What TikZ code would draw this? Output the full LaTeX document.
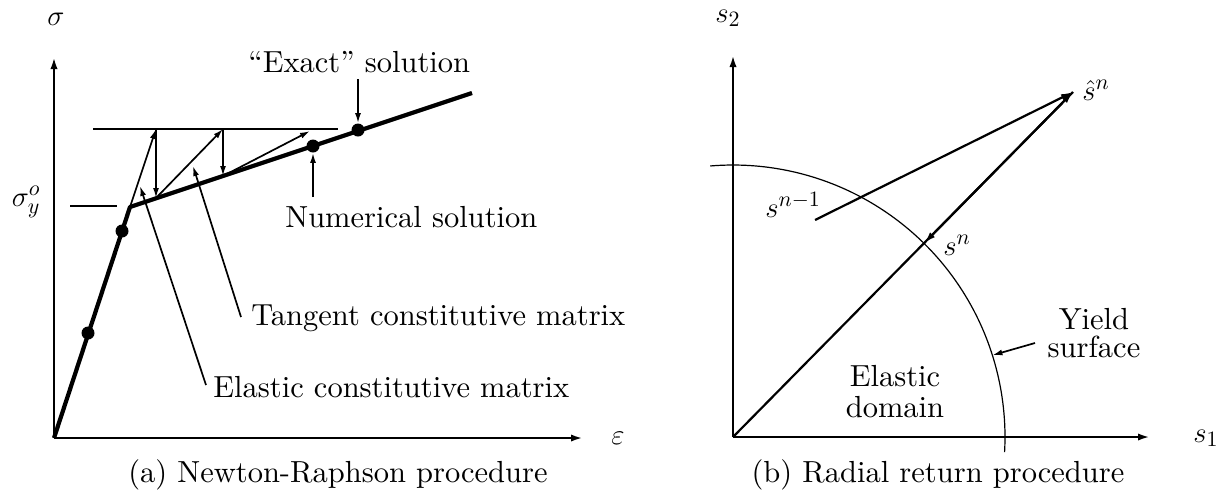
\documentclass[tikz,border=0pt]{standalone}
\usepackage{fontspec}
\setmainfont{lmroman10-regular.otf}
\usetikzlibrary{arrows.meta}
\begin{document}
\begin{tikzpicture}[x=0.5pt,y=-0.5pt,
  font=\fontsize{15.25}{15.5}\selectfont,
  axisline/.style={line width=1.2pt,-{Latex[length=6pt,width=3.6pt]}},
  thickline/.style={line width=2.1pt,line join=round},
  iterarrow/.style={line width=0.85pt,-{Latex[length=5pt,width=3pt]}},
  radarrow/.style={line width=1.1pt,-{Latex[length=6pt,width=3.4pt]}},
  thinline/.style={line width=0.85pt},
  dot/.style={circle,fill,inner sep=0pt,minimum size=6.5pt},
  lbl/.style={inner sep=0pt}]
\useasboundingbox (0,0) rectangle (1230,495);

% ---------- (a) Newton-Raphson ----------
\coordinate (O) at (54,438);
\coordinate (ytip) at (54,57);
\coordinate (xtip) at (583,438);
\draw[axisline] (O) -- (ytip);
\draw[axisline] (O) -- (xtip);
\node[lbl] (sig) at (56,19) {$\sigma$};
\node[lbl] (eps) at (618,438) {$\varepsilon$};

\coordinate (K) at (130,207);
\coordinate (E) at (472,93);
\draw[thickline] (O) -- (K) -- (E);
\node[dot] (d1) at (88,333) {};
\node[dot] (d2) at (122,231) {};

\coordinate (h1) at (93,129);
\coordinate (h2) at (338,129);
\draw[thinline] (h1) -- (h2);

\coordinate (a1) at (156,129);
\coordinate (b1) at (156,198);
\coordinate (a2) at (223,129);
\coordinate (b2) at (223,176);
\coordinate (a3) at (310,131);
\draw[iterarrow] (K) -- (a1);
\draw[iterarrow] (a1) -- (b1);
\draw[iterarrow] (b1) -- (a2);
\draw[iterarrow] (a2) -- (b2);
\draw[iterarrow] (b2) -- (a3);

\node[dot] (num) at (313,146) {};
\node[dot] (exact) at (358,130) {};

\node[lbl,anchor=base west] (exlbl) at (248,72) {``Exact'' solution};
\coordinate (exTop) at (358,79);
\draw[iterarrow] (exTop) -- (exact);

\node[lbl,anchor=base west] (numlbl) at (285,227) {Numerical solution};
\coordinate (numBot) at (313,197);
\draw[iterarrow] (numBot) -- (num);

\node[lbl,anchor=base west] (tanlbl) at (251,325) {Tangent constitutive matrix};
\coordinate (tanFoot) at (241,317);
\coordinate (tanTip) at (193,166);
\draw[iterarrow] (tanFoot) -- (tanTip);

\node[lbl,anchor=base west] (elalbl) at (213,397) {Elastic constitutive matrix};
\coordinate (elFoot) at (206,385);
\coordinate (elTip) at (140,186);
\draw[iterarrow] (elFoot) -- (elTip);

\node[lbl,anchor=east] (sy) at (41,202) {$\sigma_y^o$};
\coordinate (t1) at (70,206);
\coordinate (t2) at (117,206);
\draw[thinline] (t1) -- (t2);

\node[lbl,anchor=base] (capa) at (338,482) {(a) Newton-Raphson procedure};

% ---------- (b) Radial return ----------
\coordinate (O2) at (733,437);
\coordinate (y2tip) at (733,55);
\coordinate (x2tip) at (1150,437);
\draw[axisline] (O2) -- (y2tip);
\draw[axisline] (O2) -- (x2tip);
\node[lbl] (s2) at (728,18) {$s_2$};
\node[lbl] (s1) at (1206,438) {$s_1$};

\begin{scope}[shift={(O2)},x=0.5pt,y=0.5pt]
  \draw[line width=0.6pt] (94.8:272) arc[start angle=94.8,end angle=-3.2,radius=272];
  \coordinate (sn) at (45.4:272);
  \coordinate (ys) at (17.5:272);
\end{scope}

\coordinate (shat) at (1073,92);
\coordinate (snm1) at (815,220);
\draw[radarrow] (O2) -- (shat);
\draw[radarrow] (snm1) -- (shat);
\draw[radarrow] (shat) -- (sn);

\node[lbl,anchor=base west] (shatl) at (1082,100) {$\hat{s}^n$};
\node[lbl,anchor=base west] (snm1l) at (765,217) {$s^{n-1}$};
\node[lbl,anchor=base west] (snl) at (943,255) {$s^n$};

\node[lbl,align=center,font=\fontsize{15.25}{14}\selectfont] (yield) at (1094,333) {Yield\\surface};
\coordinate (yFoot) at (1035,343);
\draw[iterarrow] (yFoot) -- (ys);

\node[lbl,align=center] (eldom) at (895,392) {Elastic\\domain};

\node[lbl,anchor=base] (capb) at (938,482) {(b) Radial return procedure};
\end{tikzpicture}
\end{document}
